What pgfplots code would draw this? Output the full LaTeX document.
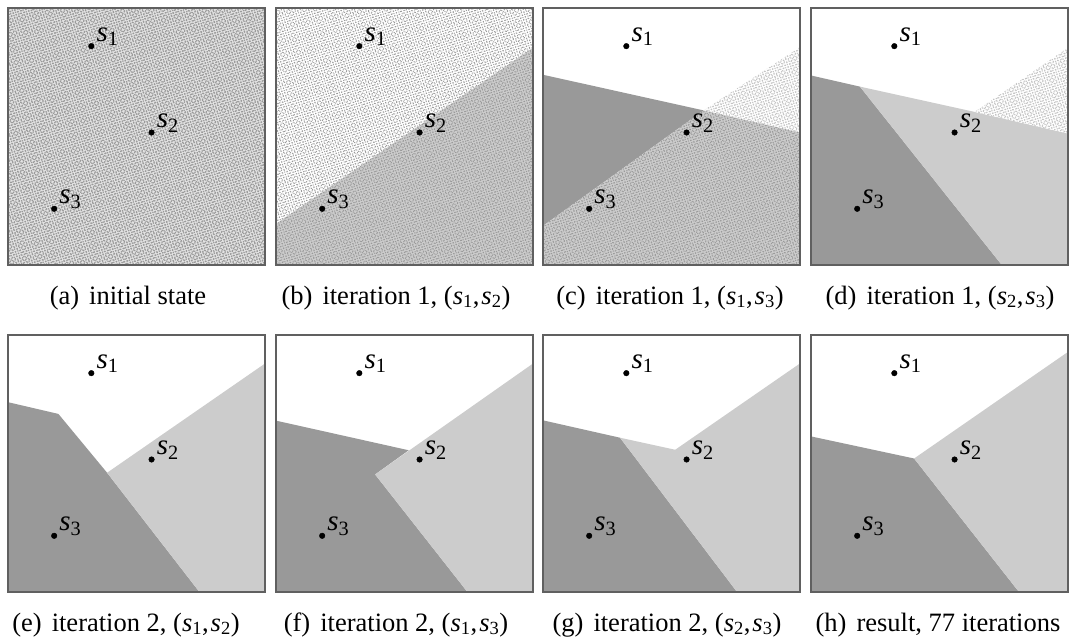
\documentclass[border=0pt]{standalone}
\usepackage{fontspec}
\setmainfont{Liberation Serif}
\usepackage{pgfplots}
\pgfplotsset{compat=1.18}
\usetikzlibrary{patterns.meta}
\definecolor{dk}{HTML}{999999}
\definecolor{lt}{HTML}{CCCCCC}
\definecolor{spdot}{HTML}{9A9A9A}
\definecolor{spdotl}{HTML}{C4C4C4}
\definecolor{frm}{HTML}{606060}
\pgfplotsset{panel/.style={scale only axis, width=257pt, height=257pt,
  xmin=0, xmax=256, ymin=0, ymax=256, y dir=reverse,
  xtick=\empty, ytick=\empty, axis line style={draw=frm, line width=1.1pt},
  axis on top, anchor=north west, clip=true},
  speck/.style n args={3}{fill=#1,
    postaction={pattern={Dots[distance=2.6pt, radius=#2, angle=17]}, pattern color=#3},
    postaction={pattern={Dots[distance=3.1pt, radius=#2, angle=61, xshift=0.7pt]}, pattern color=#3}}}
\newcommand{\sv}[1]{\textit{s}\textsubscript{#1}}
\newcommand{\sites}{%
  \addplot[only marks, mark=*, mark size=2.8pt, black] coordinates {(83,38) (143,124) (46,200)};
  \node[anchor=base west, inner sep=0pt, xshift=5pt, yshift=5pt, font=\fontsize{29}{29}\selectfont] at (axis cs:83,38) {\sv{1}};
  \node[anchor=base west, inner sep=0pt, xshift=5pt, yshift=5pt, font=\fontsize{29}{29}\selectfont] at (axis cs:143,124) {\sv{2}};
  \node[anchor=base west, inner sep=0pt, xshift=5pt, yshift=5pt, font=\fontsize{29}{29}\selectfont] at (axis cs:46,200) {\sv{3}};
}
\begin{document}
\begin{tikzpicture}
\useasboundingbox (0pt,0pt) rectangle (1070pt,-637pt);
% (a)
\begin{axis}[panel, at={(8pt,-8pt)}]
\addplot[speck={white!89!black}{0.88pt}{spdot}, draw=none] coordinates {(0,0) (256,0) (256,256) (0,256)} -- cycle;
\sites
\end{axis}
% (b)
\begin{axis}[panel, at={(276pt,-8pt)}]
\addplot[speck={white}{0.68pt}{spdot}, draw=none] coordinates {(0,0) (256,0) (256,39.5) (0,215)} -- cycle;
\addplot[speck={lt}{0.72pt}{spdot}, draw=none] coordinates {(0,215) (256,39.5) (256,256) (0,256)} -- cycle;
\sites
\end{axis}
% (c)
\begin{axis}[panel, at={(543pt,-8pt)}]
\addplot[fill=dk, draw=none] coordinates {(0,66.5) (160,102) (0,217)} -- cycle;
\addplot[speck={white}{0.78pt}{spdotl}, draw=none] coordinates {(160,102) (256,39) (256,124)} -- cycle;
\addplot[speck={lt}{0.72pt}{spdot}, draw=none] coordinates {(160,102) (256,124) (256,256) (0,256) (0,217)} -- cycle;
\sites
\end{axis}
% (d)
\begin{axis}[panel, at={(811pt,-8pt)}]
\addplot[fill=dk, draw=none] coordinates {(0,67.2) (48.7,78.3) (190,256) (0,256)} -- cycle;
\addplot[fill=lt, draw=none] coordinates {(48.7,78.3) (163,103.5) (256,125) (256,256) (190,256)} -- cycle;
\addplot[speck={white}{0.78pt}{spdotl}, draw=none] coordinates {(163,103.5) (256,39.6) (256,125)} -- cycle;
\sites
\end{axis}
% (e)
\begin{axis}[panel, at={(8pt,-335pt)}]
\addplot[fill=dk, draw=none] coordinates {(0,66.9) (50.2,78.6) (98.7,137.2) (190.7,256) (0,256)} -- cycle;
\addplot[fill=lt, draw=none] coordinates {(98.7,137.2) (256,28.4) (256,256) (190.7,256)} -- cycle;
\sites
\end{axis}
% (f)
\begin{axis}[panel, at={(276pt,-335pt)}]
\addplot[fill=dk, draw=none] coordinates {(0,85.3) (132.2,114.8) (98.7,138.9) (190.7,256) (0,256)} -- cycle;
\addplot[fill=lt, draw=none] coordinates {(98.7,138.9) (256,28.4) (256,256) (190.7,256)} -- cycle;
\sites
\end{axis}
% (g)
\begin{axis}[panel, at={(543pt,-335pt)}]
\addplot[fill=dk, draw=none] coordinates {(0,85) (76.7,102.3) (193.3,256) (0,256)} -- cycle;
\addplot[fill=lt, draw=none] coordinates {(76.7,102.3) (131.7,114.3) (256,28.3) (256,256) (193.3,256)} -- cycle;
\sites
\end{axis}
% (h)
\begin{axis}[panel, at={(811pt,-335pt)}]
\addplot[fill=dk, draw=none] coordinates {(0,101) (102.7,123) (207.2,256) (0,256)} -- cycle;
\addplot[fill=lt, draw=none] coordinates {(102.7,123) (256,16.8) (256,256) (207.2,256)} -- cycle;
\sites
\end{axis}
% captions
\begin{scope}[every node/.style={anchor=base, inner sep=0pt, font=\fontsize{26.5}{30}\selectfont}]
\node at (128pt,-304pt) {(a)\hspace{10pt}initial state};
\node at (396pt,-304pt) {(b)\hspace{10pt}iteration 1, (\sv{1},\kern2pt\sv{2})};
\node at (670pt,-304pt) {(c)\hspace{10pt}iteration 1, (\sv{1},\kern2pt\sv{3})};
\node at (940pt,-304pt) {(d)\hspace{10pt}iteration 1, (\sv{2},\kern2pt\sv{3})};
\node at (126pt,-631pt) {(e)\hspace{10pt}iteration 2, (\sv{1},\kern2pt\sv{2})};
\node at (396pt,-631pt) {(f)\hspace{10pt}iteration 2, (\sv{1},\kern2pt\sv{3})};
\node at (667pt,-631pt) {(g)\hspace{10pt}iteration 2, (\sv{2},\kern2pt\sv{3})};
\node at (938pt,-631pt) {(h)\hspace{10pt}result, 77 iterations};
\end{scope}
\end{tikzpicture}
\end{document}
